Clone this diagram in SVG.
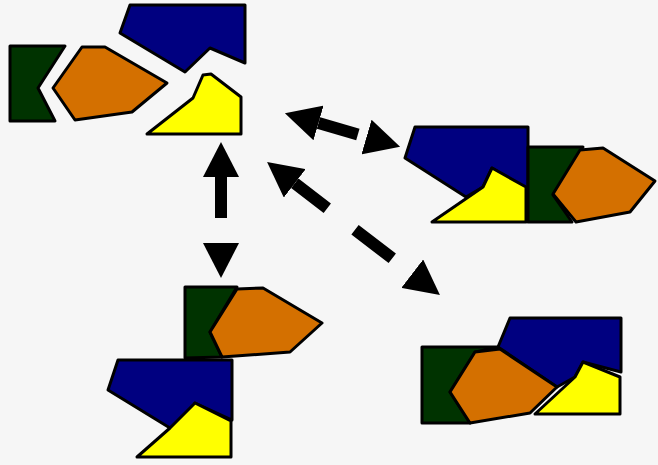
<svg xmlns="http://www.w3.org/2000/svg" width="658" height="465" viewBox="0 0 658 465">
<defs>
<style>
.pc{stroke:#000;stroke-width:3;stroke-linejoin:round}
.b{fill:#000080}.g{fill:#003300}.o{fill:#d47000}.y{fill:#ffff00}
.cn{fill:none;stroke:#000;stroke-width:12;stroke-dasharray:41 32;marker-start:url(#ah);marker-end:url(#ah)}
</style>
<marker id="ah" markerUnits="userSpaceOnUse" viewBox="0 0 36 36" refX="0" refY="18" markerWidth="36" markerHeight="36" orient="auto-start-reverse">
<path d="M0,0 L35,18 L0,36 z" fill="#000"/>
</marker>
</defs>
<rect width="658" height="465" fill="#f6f6f6"/>
<g id="cluster1">
<polygon class="pc g" points="10,46 65,46 38,88 55,121 10,121"/>
<polygon class="pc o" points="53,88 82,47 105,47 167,83 132,112 75,120"/>
<polygon class="pc b" points="130,5 245,5 245,63 210,48 185,72 120,33"/>
<polygon class="pc y" points="147,134 193,98 203,75 211,74 241,97 241,134"/>
</g>
<g id="cluster2">
<polygon class="pc b" points="415,127 528,127 528,190 492,168 483,187 466,197 405,158"/>
<polygon class="pc y" points="432,222 483,187 492,168 526,187 526,222"/>
<polygon class="pc g" points="528,147 583,147 553,195 572,222 528,222"/>
<polygon class="pc o" points="553,194 580,150 603,148 655,181 630,212 576,222"/>
</g>
<g id="cluster3">
<polygon class="pc g" points="185,287 237,287 210,332 222,357 185,358"/>
<polygon class="pc o" points="210,332 237,289 263,288 322,323 290,352 222,357"/>
<polygon class="pc b" points="118,360 232,360 232,420 195,403 188,418 170,428 108,390"/>
<polygon class="pc y" points="137,457 170,428 195,403 231,421 231,457"/>
</g>
<g id="cluster4">
<polygon class="pc g" points="422,347 500,347 475,352 450,392 470,423 422,423"/>
<polygon class="pc b" points="510,318 621,318 621,372 583,362 575,377 557,387 498,347"/>
<polygon class="pc o" points="450,392 475,352 500,349 557,387 530,413 470,423"/>
<polygon class="pc y" points="535,414 575,377 583,362 620,377 620,414"/>
</g>
<g id="connectors">
<line class="cn" x1="221" y1="177" x2="221" y2="243"/>
<line class="cn" x1="318.5" y1="123" x2="366.5" y2="137"/>
<line class="cn" x1="294.8" y1="183.3" x2="412.2" y2="273.7" style="stroke-dasharray:41 35 47 40"/>
</g>
</svg>
